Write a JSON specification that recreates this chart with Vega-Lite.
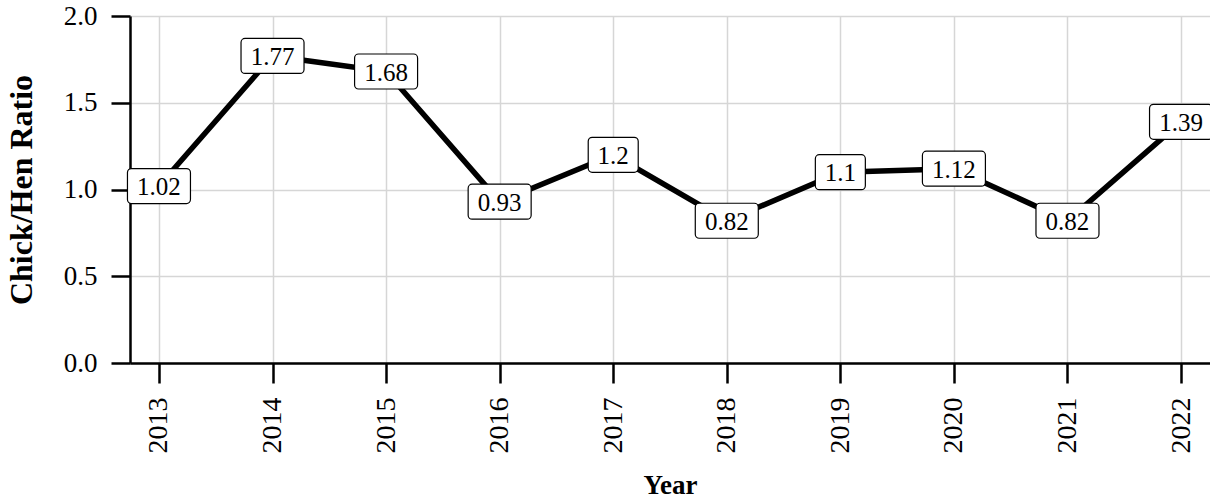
{
  "$schema": "https://vega.github.io/schema/vega-lite/v6.json",
  "width": 1080,
  "height": 347,
  "autosize": {"type": "none"},
  "padding": {"left": 130, "top": 16, "right": 0, "bottom": 140},
  "background": "white",
  "config": {
    "view": {"stroke": null},
    "font": "Liberation Serif",
    "axis": {
      "labelFont": "Liberation Serif",
      "titleFont": "Liberation Serif",
      "labelFontSize": 27,
      "titleFontSize": 28,
      "labelColor": "black",
      "titleColor": "black",
      "domainColor": "black",
      "domainWidth": 2.5,
      "tickColor": "black",
      "tickWidth": 2.5,
      "tickSize": 19,
      "gridColor": "#d6d6d6",
      "gridWidth": 1.5
    }
  },
  "data": {
    "values": [
      {"year": 2013, "ratio": 1.02},
      {"year": 2014, "ratio": 1.77},
      {"year": 2015, "ratio": 1.68},
      {"year": 2016, "ratio": 0.93},
      {"year": 2017, "ratio": 1.2},
      {"year": 2018, "ratio": 0.82},
      {"year": 2019, "ratio": 1.1},
      {"year": 2020, "ratio": 1.12},
      {"year": 2021, "ratio": 0.82},
      {"year": 2022, "ratio": 1.39}
    ]
  },
  "encoding": {
    "x": {
      "field": "year",
      "type": "ordinal",
      "scale": {"type": "point", "padding": 0.255},
      "axis": {
        "title": "Year",
        "titleFontWeight": "bold",
        "titleFontSize": 27,
        "labelFontSize": 28,
        "labelAngle": -90,
        "labelAlign": "right",
        "labelBaseline": "middle",
        "labelPadding": 14,
        "tickSize": 20,
        "grid": true,
        "titlePadding": 19
      }
    },
    "y": {
      "field": "ratio",
      "type": "quantitative",
      "scale": {"domain": [0, 2], "nice": false, "zero": true},
      "axis": {
        "title": "Chick/Hen Ratio",
        "titleFontWeight": "bold",
        "titleFontSize": 32,
        "values": [0, 0.5, 1, 1.5, 2],
        "format": ".1f",
        "labelPadding": 14,
        "grid": true,
        "titlePadding": 25
      }
    }
  },
  "layer": [
    {"mark": {"type": "line", "color": "black", "strokeWidth": 5.5}},
    {
      "transform": [{"filter": "length(toString(datum.ratio)) > 3"}],
      "mark": {"type": "rect", "width": 63, "height": 35, "cornerRadius": 4, "fill": "white", "stroke": "black", "strokeWidth": 1.2}
    },
    {
      "transform": [{"filter": "length(toString(datum.ratio)) <= 3"}],
      "mark": {"type": "rect", "width": 50, "height": 35, "cornerRadius": 4, "fill": "white", "stroke": "black", "strokeWidth": 1.2}
    },
    {
      "mark": {"type": "text", "font": "Liberation Serif", "fontSize": 25, "color": "black", "baseline": "middle", "align": "center", "dy": 1},
      "encoding": {"text": {"field": "ratio", "type": "quantitative"}}
    }
  ]
}
